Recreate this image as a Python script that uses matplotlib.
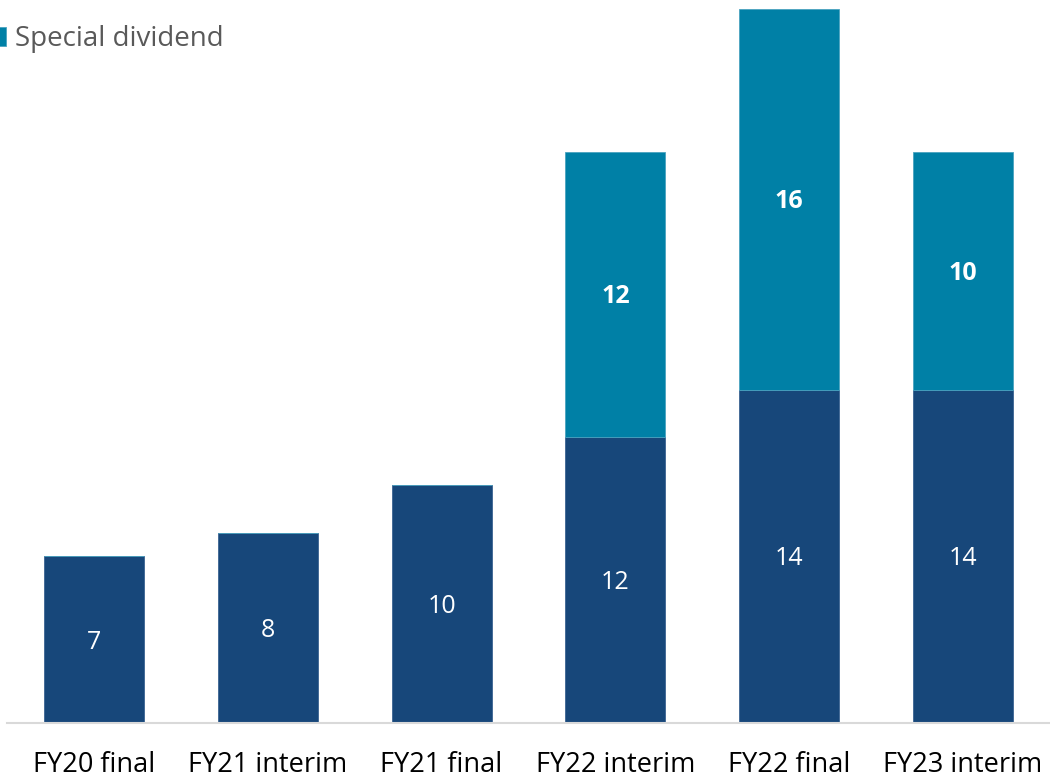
import matplotlib.pyplot as plt
import numpy as np

plt.rcParams['font.family'] = ['Open Sans', 'DejaVu Sans']

periods = ['FY20 final', 'FY21 interim', 'FY21 final', 'FY22 interim', 'FY22 final', 'FY23 interim']
ordinary = [7, 8, 10, 12, 14, 14]
special = [0, 0, 0, 12, 16, 10]

navy = '#17477a'
teal = '#0080a6'

fig = plt.figure(figsize=(10.5, 7.8), dpi=100)
ax = fig.add_axes([7 / 1050, 1 - 723 / 780, 1 - 7 / 1050, (723 - 9) / 780])

x = np.arange(len(periods))
b1 = ax.bar(x, ordinary, width=0.575, color=navy, edgecolor='#3a6391', linewidth=0.6)
b2 = ax.bar(x, special, width=0.575, bottom=ordinary, color=teal, edgecolor='#4aa3c0', linewidth=0.6)

# labels in the middle of each segment
for i in range(len(x)):
    ax.text(x[i], ordinary[i] / 2 - 0.1, str(ordinary[i]), ha='center', va='center',
            color='white', fontsize=18)
    if special[i] > 0:
        ax.text(x[i], ordinary[i] + special[i] / 2 - 0.1, str(special[i]), ha='center', va='center',
                color='white', fontsize=18, fontweight='bold')

ax.set_xlim(-0.5, 5.5)
ax.set_ylim(0, 30)
ax.set_xticks(x)
ax.set_xticklabels(periods, fontsize=19.5, color='black')
ax.tick_params(axis='x', length=0, pad=20)
ax.set_yticks([])
for s in ['top', 'right', 'left']:
    ax.spines[s].set_visible(False)
ax.spines['bottom'].set_color('#d9d9d9')
ax.spines['bottom'].set_linewidth(1.5)

leg = fig.legend([b2], ['Special dividend'], loc='center left', bbox_to_anchor=(-13 / 1050, 1 - 39 / 780),
                 frameon=False, fontsize=20, handlelength=0.7, handleheight=0.65,
                 handletextpad=0.3, borderpad=0, borderaxespad=0)
for t in leg.get_texts():
    t.set_color('#595959')

fig.savefig('out.png', dpi=100)
